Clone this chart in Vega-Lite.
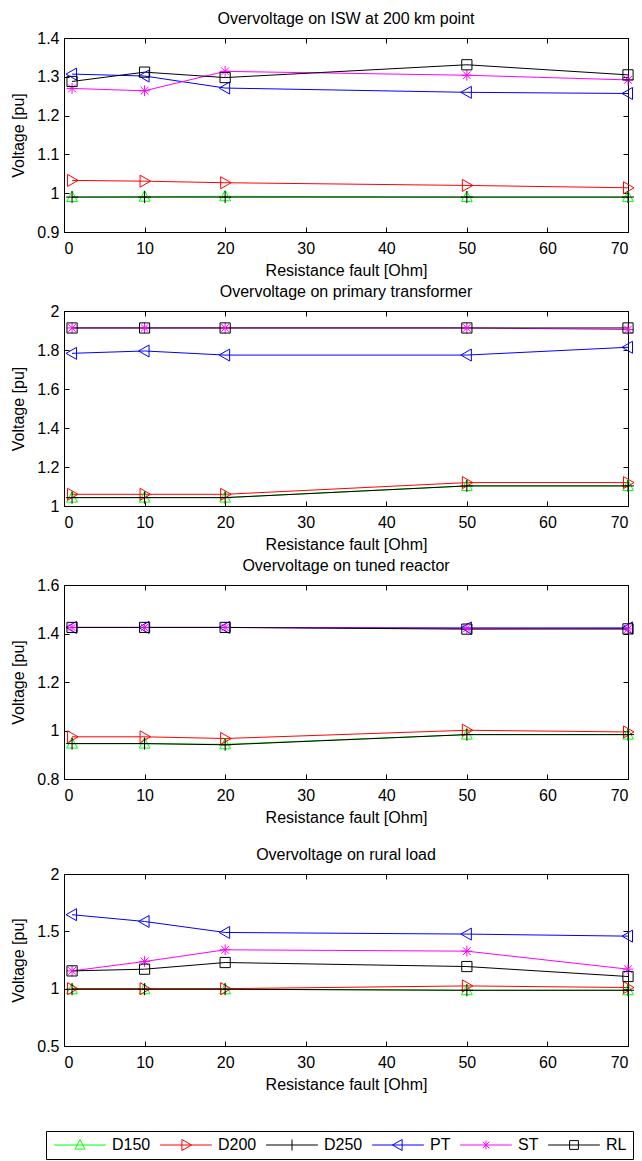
{
  "$schema": "https://vega.github.io/schema/vega-lite/v6.json",
  "padding": {"left": 10, "top": 10, "right": 5, "bottom": 1},
  "bounds": "full",
  "spacing": 4,
  "config": {
    "font": "Liberation Sans",
    "view": {"stroke": "black", "strokeWidth": 1},
    "axis": {"grid": false, "labelFontSize": 16, "titleFontSize": 16, "titleFontWeight": "normal", "labelColor": "black", "titleColor": "black", "domainColor": "black", "tickColor": "black", "labelFont": "Liberation Sans", "titleFont": "Liberation Sans"},
    "title": {"fontSize": 16, "fontWeight": "normal", "color": "black", "font": "Liberation Sans", "offset": 3},
    "legend": {"labelFontSize": 16, "labelColor": "black", "labelFont": "Liberation Sans"}
  },
  "datasets": {
    "d": [
      {"panel": 1, "series": "D150", "R": 1, "V": 0.990}, {"panel": 1, "series": "D150", "R": 10, "V": 0.991}, {"panel": 1, "series": "D150", "R": 20, "V": 0.992}, {"panel": 1, "series": "D150", "R": 50, "V": 0.990}, {"panel": 1, "series": "D150", "R": 70, "V": 0.990},
      {"panel": 1, "series": "D200", "R": 1, "V": 1.033}, {"panel": 1, "series": "D200", "R": 10, "V": 1.031}, {"panel": 1, "series": "D200", "R": 20, "V": 1.027}, {"panel": 1, "series": "D200", "R": 50, "V": 1.020}, {"panel": 1, "series": "D200", "R": 70, "V": 1.014},
      {"panel": 1, "series": "D250", "R": 1, "V": 0.990}, {"panel": 1, "series": "D250", "R": 10, "V": 0.990}, {"panel": 1, "series": "D250", "R": 20, "V": 0.990}, {"panel": 1, "series": "D250", "R": 50, "V": 0.990}, {"panel": 1, "series": "D250", "R": 70, "V": 0.990},
      {"panel": 1, "series": "PT", "R": 1, "V": 1.307}, {"panel": 1, "series": "PT", "R": 10, "V": 1.302}, {"panel": 1, "series": "PT", "R": 20, "V": 1.271}, {"panel": 1, "series": "PT", "R": 50, "V": 1.260}, {"panel": 1, "series": "PT", "R": 70, "V": 1.257},
      {"panel": 1, "series": "ST", "R": 1, "V": 1.270}, {"panel": 1, "series": "ST", "R": 10, "V": 1.264}, {"panel": 1, "series": "ST", "R": 20, "V": 1.314}, {"panel": 1, "series": "ST", "R": 50, "V": 1.304}, {"panel": 1, "series": "ST", "R": 70, "V": 1.292},
      {"panel": 1, "series": "RL", "R": 1, "V": 1.288}, {"panel": 1, "series": "RL", "R": 10, "V": 1.312}, {"panel": 1, "series": "RL", "R": 20, "V": 1.298}, {"panel": 1, "series": "RL", "R": 50, "V": 1.331}, {"panel": 1, "series": "RL", "R": 70, "V": 1.305},

      {"panel": 2, "series": "D150", "R": 1, "V": 1.043}, {"panel": 2, "series": "D150", "R": 10, "V": 1.043}, {"panel": 2, "series": "D150", "R": 20, "V": 1.043}, {"panel": 2, "series": "D150", "R": 50, "V": 1.103}, {"panel": 2, "series": "D150", "R": 70, "V": 1.103},
      {"panel": 2, "series": "D200", "R": 1, "V": 1.060}, {"panel": 2, "series": "D200", "R": 10, "V": 1.060}, {"panel": 2, "series": "D200", "R": 20, "V": 1.060}, {"panel": 2, "series": "D200", "R": 50, "V": 1.120}, {"panel": 2, "series": "D200", "R": 70, "V": 1.120},
      {"panel": 2, "series": "D250", "R": 1, "V": 1.043}, {"panel": 2, "series": "D250", "R": 10, "V": 1.043}, {"panel": 2, "series": "D250", "R": 20, "V": 1.043}, {"panel": 2, "series": "D250", "R": 50, "V": 1.103}, {"panel": 2, "series": "D250", "R": 70, "V": 1.103},
      {"panel": 2, "series": "PT", "R": 1, "V": 1.783}, {"panel": 2, "series": "PT", "R": 10, "V": 1.795}, {"panel": 2, "series": "PT", "R": 20, "V": 1.774}, {"panel": 2, "series": "PT", "R": 50, "V": 1.774}, {"panel": 2, "series": "PT", "R": 70, "V": 1.814},
      {"panel": 2, "series": "ST", "R": 1, "V": 1.913}, {"panel": 2, "series": "ST", "R": 10, "V": 1.913}, {"panel": 2, "series": "ST", "R": 20, "V": 1.913}, {"panel": 2, "series": "ST", "R": 50, "V": 1.913}, {"panel": 2, "series": "ST", "R": 70, "V": 1.905},
      {"panel": 2, "series": "RL", "R": 1, "V": 1.913}, {"panel": 2, "series": "RL", "R": 10, "V": 1.913}, {"panel": 2, "series": "RL", "R": 20, "V": 1.913}, {"panel": 2, "series": "RL", "R": 50, "V": 1.913}, {"panel": 2, "series": "RL", "R": 70, "V": 1.913},

      {"panel": 3, "series": "D150", "R": 1, "V": 0.946}, {"panel": 3, "series": "D150", "R": 10, "V": 0.946}, {"panel": 3, "series": "D150", "R": 20, "V": 0.943}, {"panel": 3, "series": "D150", "R": 50, "V": 0.983}, {"panel": 3, "series": "D150", "R": 70, "V": 0.983},
      {"panel": 3, "series": "D200", "R": 1, "V": 0.974}, {"panel": 3, "series": "D200", "R": 10, "V": 0.974}, {"panel": 3, "series": "D200", "R": 20, "V": 0.967}, {"panel": 3, "series": "D200", "R": 50, "V": 1.001}, {"panel": 3, "series": "D200", "R": 70, "V": 0.994},
      {"panel": 3, "series": "D250", "R": 1, "V": 0.946}, {"panel": 3, "series": "D250", "R": 10, "V": 0.946}, {"panel": 3, "series": "D250", "R": 20, "V": 0.941}, {"panel": 3, "series": "D250", "R": 50, "V": 0.983}, {"panel": 3, "series": "D250", "R": 70, "V": 0.983},
      {"panel": 3, "series": "PT", "R": 1, "V": 1.425}, {"panel": 3, "series": "PT", "R": 10, "V": 1.425}, {"panel": 3, "series": "PT", "R": 20, "V": 1.425}, {"panel": 3, "series": "PT", "R": 50, "V": 1.423}, {"panel": 3, "series": "PT", "R": 70, "V": 1.423},
      {"panel": 3, "series": "ST", "R": 1, "V": 1.425}, {"panel": 3, "series": "ST", "R": 10, "V": 1.425}, {"panel": 3, "series": "ST", "R": 20, "V": 1.425}, {"panel": 3, "series": "ST", "R": 50, "V": 1.421}, {"panel": 3, "series": "ST", "R": 70, "V": 1.419},
      {"panel": 3, "series": "RL", "R": 1, "V": 1.425}, {"panel": 3, "series": "RL", "R": 10, "V": 1.425}, {"panel": 3, "series": "RL", "R": 20, "V": 1.425}, {"panel": 3, "series": "RL", "R": 50, "V": 1.418}, {"panel": 3, "series": "RL", "R": 70, "V": 1.419},

      {"panel": 4, "series": "D150", "R": 1, "V": 0.995}, {"panel": 4, "series": "D150", "R": 10, "V": 0.995}, {"panel": 4, "series": "D150", "R": 20, "V": 0.995}, {"panel": 4, "series": "D150", "R": 50, "V": 0.986}, {"panel": 4, "series": "D150", "R": 70, "V": 0.986},
      {"panel": 4, "series": "D200", "R": 1, "V": 1.000}, {"panel": 4, "series": "D200", "R": 10, "V": 1.000}, {"panel": 4, "series": "D200", "R": 20, "V": 1.000}, {"panel": 4, "series": "D200", "R": 50, "V": 1.024}, {"panel": 4, "series": "D200", "R": 70, "V": 1.010},
      {"panel": 4, "series": "D250", "R": 1, "V": 0.995}, {"panel": 4, "series": "D250", "R": 10, "V": 0.995}, {"panel": 4, "series": "D250", "R": 20, "V": 0.995}, {"panel": 4, "series": "D250", "R": 50, "V": 0.986}, {"panel": 4, "series": "D250", "R": 70, "V": 0.986},
      {"panel": 4, "series": "PT", "R": 1, "V": 1.645}, {"panel": 4, "series": "PT", "R": 10, "V": 1.586}, {"panel": 4, "series": "PT", "R": 20, "V": 1.490}, {"panel": 4, "series": "PT", "R": 50, "V": 1.476}, {"panel": 4, "series": "PT", "R": 70, "V": 1.458},
      {"panel": 4, "series": "ST", "R": 1, "V": 1.155}, {"panel": 4, "series": "ST", "R": 10, "V": 1.237}, {"panel": 4, "series": "ST", "R": 20, "V": 1.339}, {"panel": 4, "series": "ST", "R": 50, "V": 1.327}, {"panel": 4, "series": "ST", "R": 70, "V": 1.170},
      {"panel": 4, "series": "RL", "R": 1, "V": 1.155}, {"panel": 4, "series": "RL", "R": 10, "V": 1.170}, {"panel": 4, "series": "RL", "R": 20, "V": 1.228}, {"panel": 4, "series": "RL", "R": 50, "V": 1.193}, {"panel": 4, "series": "RL", "R": 70, "V": 1.106}
    ]
  },
  "vconcat": [
    {
      "width": 564, "height": 194,
      "title": "Overvoltage on ISW at 200 km point",
      "data": {"name": "d"},
      "transform": [{"filter": "datum.panel == 1"}],
      "layer": [
        {
          "mark": {"type": "line", "strokeWidth": 1},
          "encoding": {
            "x": {"field": "R", "type": "quantitative", "scale": {"domain": [0, 70], "nice": false, "zero": false}, "axis": {"orient": "bottom", "values": [0, 10, 20, 30, 40, 50, 60, 70], "title": "Resistance fault [Ohm]", "tickSize": -5, "labelPadding": 13, "titlePadding": 6}},
            "y": {"field": "V", "type": "quantitative", "scale": {"domain": [0.9, 1.4], "nice": false, "zero": false}, "axis": {"orient": "left", "values": [0.9, 1.0, 1.1, 1.2, 1.3, 1.4], "format": "~g", "title": "Voltage [pu]", "tickSize": -5, "labelPadding": 10, "titlePadding": 10}},
            "stroke": {
              "field": "series", "type": "nominal",
              "scale": {"domain": ["D150", "D200", "D250", "PT", "ST", "RL"], "range": ["#00ff00", "#ff0000", "#000000", "#0000ff", "#ff00ff", "#000000"]},
              "legend": {
                "orient": "none", "legendX": -18, "legendY": 1093,
                "direction": "horizontal", "columns": 6, "title": null,
                "strokeColor": "black", "fillColor": "white", "padding": 6,
                "symbolSize": 121, "symbolStrokeWidth": 1, "symbolOffset": 20,
                "labelOffset": 24, "columnPadding": 7,
                "labelFontSize": 16, "labelColor": "black",
                "encode": {
                  "symbols": {
                    "update": {
                      "shape": {"signal": "datum.value == 'D150' ? 'M-4.7,0L4.7,0M0,-1L0.9,0.75L-0.9,0.75Z' : datum.value == 'D200' ? 'M-4.7,0L4.7,0M-0.75,-1L1,0L-0.75,1Z' : datum.value == 'D250' ? 'M-4.7,0L4.7,0M0,-1L0,1' : datum.value == 'PT' ? 'M-4.7,0L4.7,0M0.75,-1L-1,0L0.75,1Z' : datum.value == 'ST' ? 'M-4.7,0L4.7,0M0,-0.8L0,0.8M-0.6,-0.6L0.6,0.6M-0.6,0.6L0.6,-0.6' : 'M-4.7,0L4.7,0M-0.8,-0.8L0.8,-0.8L0.8,0.8L-0.8,0.8Z'"},
                      "fill": {"value": "transparent"},
                      "strokeWidth": {"value": 1},
                      "opacity": {"value": 1}
                    }
                  }
                }
              }
            }
          }
        },
        {
          "mark": {"type": "point", "filled": false, "size": 144, "strokeWidth": 1, "opacity": 1},
          "encoding": {
            "x": {"field": "R", "type": "quantitative", "axis": {"orient": "top", "values": [0, 10, 20, 30, 40, 50, 60, 70], "labels": false, "title": null, "tickSize": -5}},
            "y": {"field": "V", "type": "quantitative", "axis": {"orient": "right", "values": [0.9, 1.0, 1.1, 1.2, 1.3, 1.4], "labels": false, "title": null, "tickSize": -5}},
            "color": {"field": "series", "type": "nominal", "legend": null, "scale": {"domain": ["RL", "ST", "PT", "D250", "D200", "D150"], "range": ["#000000", "#ff00ff", "#0000ff", "#000000", "#ff0000", "#00ff00"]}},
            "shape": {"field": "series", "type": "nominal", "legend": null, "scale": {"domain": ["PT", "RL", "ST", "D150", "D250", "D200"], "range": ["M0.75,-1L-1,0L0.75,1Z", "M-0.85,-0.85L0.85,-0.85L0.85,0.85L-0.85,0.85Z", "M-0.9,0L0.9,0M0,-0.9L0,0.9M-0.65,-0.65L0.65,0.65M-0.65,0.65L0.65,-0.65", "M0,-1L0.9,0.75L-0.9,0.75Z", "M-1,0L1,0M0,-1L0,1", "M-0.75,-1L1,0L-0.75,1Z"]}}
          }
        }
      ],
      "resolve": {"axis": {"x": "independent", "y": "independent"}}
    },
    {
      "width": 564, "height": 195,
      "title": "Overvoltage on primary transformer",
      "data": {"name": "d"},
      "transform": [{"filter": "datum.panel == 2"}],
      "layer": [
        {
          "mark": {"type": "line", "strokeWidth": 1},
          "encoding": {
            "x": {"field": "R", "type": "quantitative", "scale": {"domain": [0, 70], "nice": false, "zero": false}, "axis": {"orient": "bottom", "values": [0, 10, 20, 30, 40, 50, 60, 70], "title": "Resistance fault [Ohm]", "tickSize": -5, "labelPadding": 13, "titlePadding": 6}},
            "y": {"field": "V", "type": "quantitative", "scale": {"domain": [1, 2], "nice": false, "zero": false}, "axis": {"orient": "left", "values": [1, 1.2, 1.4, 1.6, 1.8, 2], "format": "~g", "title": "Voltage [pu]", "tickSize": -5, "labelPadding": 10, "titlePadding": 10}},
            "stroke": {"field": "series", "type": "nominal"}
          }
        },
        {
          "mark": {"type": "point", "filled": false, "size": 144, "strokeWidth": 1, "opacity": 1},
          "encoding": {
            "x": {"field": "R", "type": "quantitative", "axis": {"orient": "top", "values": [0, 10, 20, 30, 40, 50, 60, 70], "labels": false, "title": null, "tickSize": -5}},
            "y": {"field": "V", "type": "quantitative", "axis": {"orient": "right", "values": [1, 1.2, 1.4, 1.6, 1.8, 2], "labels": false, "title": null, "tickSize": -5}},
            "color": {"field": "series", "type": "nominal", "legend": null},
            "shape": {"field": "series", "type": "nominal", "legend": null}
          }
        }
      ],
      "resolve": {"axis": {"x": "independent", "y": "independent"}}
    },
    {
      "width": 564, "height": 194,
      "title": "Overvoltage on tuned reactor",
      "data": {"name": "d"},
      "transform": [{"filter": "datum.panel == 3"}],
      "layer": [
        {
          "mark": {"type": "line", "strokeWidth": 1},
          "encoding": {
            "x": {"field": "R", "type": "quantitative", "scale": {"domain": [0, 70], "nice": false, "zero": false}, "axis": {"orient": "bottom", "values": [0, 10, 20, 30, 40, 50, 60, 70], "title": "Resistance fault [Ohm]", "tickSize": -5, "labelPadding": 13, "titlePadding": 6}},
            "y": {"field": "V", "type": "quantitative", "scale": {"domain": [0.8, 1.6], "nice": false, "zero": false}, "axis": {"orient": "left", "values": [0.8, 1, 1.2, 1.4, 1.6], "format": "~g", "title": "Voltage [pu]", "tickSize": -5, "labelPadding": 10, "titlePadding": 10}},
            "stroke": {"field": "series", "type": "nominal"}
          }
        },
        {
          "mark": {"type": "point", "filled": false, "size": 144, "strokeWidth": 1, "opacity": 1},
          "encoding": {
            "x": {"field": "R", "type": "quantitative", "axis": {"orient": "top", "values": [0, 10, 20, 30, 40, 50, 60, 70], "labels": false, "title": null, "tickSize": -5}},
            "y": {"field": "V", "type": "quantitative", "axis": {"orient": "right", "values": [0.8, 1, 1.2, 1.4, 1.6], "labels": false, "title": null, "tickSize": -5}},
            "color": {"field": "series", "type": "nominal", "legend": null},
            "shape": {"field": "series", "type": "nominal", "legend": null}
          }
        }
      ],
      "resolve": {"axis": {"x": "independent", "y": "independent"}}
    },
    {
      "width": 564, "height": 172,
      "title": {"text": ["", "Overvoltage on rural load"], "lineHeight": 16},
      "data": {"name": "d"},
      "transform": [{"filter": "datum.panel == 4"}],
      "layer": [
        {
          "mark": {"type": "line", "strokeWidth": 1},
          "encoding": {
            "x": {"field": "R", "type": "quantitative", "scale": {"domain": [0, 70], "nice": false, "zero": false}, "axis": {"orient": "bottom", "values": [0, 10, 20, 30, 40, 50, 60, 70], "title": "Resistance fault [Ohm]", "tickSize": -5, "labelPadding": 13, "titlePadding": 6}},
            "y": {"field": "V", "type": "quantitative", "scale": {"domain": [0.5, 2], "nice": false, "zero": false}, "axis": {"orient": "left", "values": [0.5, 1, 1.5, 2], "format": "~g", "title": "Voltage [pu]", "tickSize": -5, "labelPadding": 10, "titlePadding": 10}},
            "stroke": {"field": "series", "type": "nominal"}
          }
        },
        {
          "mark": {"type": "point", "filled": false, "size": 144, "strokeWidth": 1, "opacity": 1},
          "encoding": {
            "x": {"field": "R", "type": "quantitative", "axis": {"orient": "top", "values": [0, 10, 20, 30, 40, 50, 60, 70], "labels": false, "title": null, "tickSize": -5}},
            "y": {"field": "V", "type": "quantitative", "axis": {"orient": "right", "values": [0.5, 1, 1.5, 2], "labels": false, "title": null, "tickSize": -5}},
            "color": {"field": "series", "type": "nominal", "legend": null},
            "shape": {"field": "series", "type": "nominal", "legend": null}
          }
        }
      ],
      "resolve": {"axis": {"x": "independent", "y": "independent"}}
    }
  ]
}
